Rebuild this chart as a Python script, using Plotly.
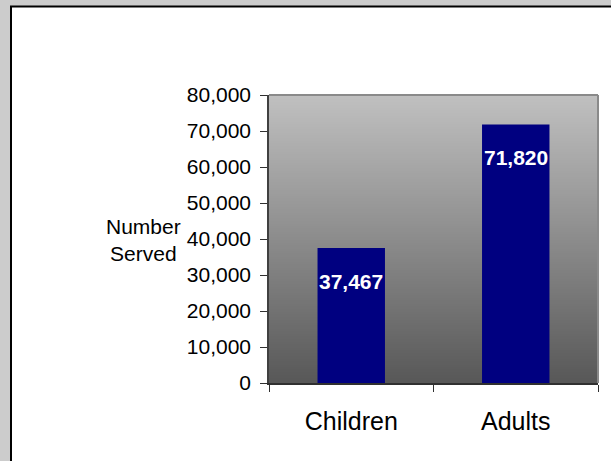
import base64
import struct
import zlib

import plotly.graph_objects as go

# Program totals
categories = ["Children", "Adults"]
served = [37467, 71820]

y_tick_values = [0, 10000, 20000, 30000, 40000, 50000, 60000, 70000, 80000]
y_tick_labels = [f"{v:,}" for v in y_tick_values]

W, H = 611, 461
M_L, M_R, M_T, M_B = 269, 13, 95, 78
PW, PH = W - M_L - M_R, H - M_T - M_B

FONT = "Liberation Sans, Arial, sans-serif"


def px_x(px):
    """Pixel column -> paper x."""
    return (px - M_L) / PW


def px_y(py):
    """Pixel row -> paper y."""
    return (H - M_B - py) / PH


def gradient_png(top, bottom, n=256):
    """1-pixel-wide vertical grey ramp as a base64 PNG data URI."""
    raw = b""
    for i in range(n):
        v = round(top + (bottom - top) * i / (n - 1))
        raw += b"\x00" + bytes([v, v, v])

    def chunk(tag, data):
        c = struct.pack(">I", len(data)) + tag + data
        return c + struct.pack(">I", zlib.crc32(tag + data) & 0xFFFFFFFF)

    png = b"\x89PNG\r\n\x1a\n"
    png += chunk(b"IHDR", struct.pack(">IIBBBBB", 1, n, 8, 2, 0, 0, 0))
    png += chunk(b"IDAT", zlib.compress(raw, 9))
    png += chunk(b"IEND", b"")
    return "data:image/png;base64," + base64.b64encode(png).decode()


fig = go.Figure(
    go.Bar(
        x=categories,
        y=served,
        marker=dict(color="#000080", line=dict(color="#000080", width=0)),
        hoverinfo="skip",
    )
)

# Value labels inside the top of each bar
for cat, val in zip(categories, served):
    fig.add_annotation(
        x=cat, y=val, xref="x", yref="y",
        text=f"<b>{val:,}</b>", showarrow=False, yshift=-33,
        font=dict(family=FONT, size=21, color="white"),
    )

# Axis caption to the left of the value axis
fig.add_annotation(
    x=px_x(143), y=px_y(239.5), xref="paper", yref="paper",
    xanchor="center", yanchor="middle",
    text="Number<br>Served", showarrow=False, align="center",
    font=dict(family=FONT, size=21, color="black"),
)

shapes = [
    # grey surround on the left and top
    dict(type="rect", xref="paper", yref="paper",
         x0=px_x(-5), x1=px_x(10), y0=px_y(470), y1=px_y(-5),
         fillcolor="#cccccc", line=dict(width=0), layer="below"),
    dict(type="rect", xref="paper", yref="paper",
         x0=px_x(-5), x1=px_x(620), y0=px_y(6), y1=px_y(-5),
         fillcolor="#cccccc", line=dict(width=0), layer="below"),
    # black frame edges
    dict(type="line", xref="paper", yref="paper",
         x0=px_x(11), x1=px_x(11), y0=px_y(470), y1=px_y(6),
         line=dict(color="black", width=2), layer="below"),
    dict(type="line", xref="paper", yref="paper",
         x0=px_x(10), x1=px_x(620), y0=px_y(6.5), y1=px_y(6.5),
         line=dict(color="black", width=2), layer="below"),
    # plot-area border on top and right
    dict(type="line", xref="paper", yref="paper",
         x0=0, x1=1, y0=1, y1=1,
         line=dict(color="#8a8a8a", width=2), layer="above"),
    dict(type="line", xref="paper", yref="paper",
         x0=1, x1=1, y0=0, y1=1,
         line=dict(color="#8a8a8a", width=2), layer="above"),
]

fig.update_layout(
    width=W, height=H,
    margin=dict(l=M_L, r=M_R, t=M_T, b=M_B, pad=0),
    paper_bgcolor="white",
    plot_bgcolor="rgba(0,0,0,0)",
    showlegend=False,
    bargap=0.59,
    shapes=shapes,
    images=[dict(
        source=gradient_png(192, 88),
        xref="paper", yref="paper", x=0, y=1, sizex=1, sizey=1,
        xanchor="left", yanchor="top", sizing="stretch", layer="below",
    )],
    xaxis=dict(
        type="category",
        showgrid=False, zeroline=False,
        showline=True, linecolor="#303030", linewidth=1.5,
        ticks="outside", tickson="boundaries", ticklen=7, tickcolor="#303030",
        tickfont=dict(family=FONT, size=25, color="black"),
        ticklabelstandoff=15,
    ),
    yaxis=dict(
        range=[0, 80000],
        tickvals=y_tick_values, ticktext=y_tick_labels,
        showgrid=False, zeroline=False,
        showline=True, linecolor="#404040", linewidth=1.5,
        ticks="outside", ticklen=7, tickcolor="#303030",
        tickfont=dict(family=FONT, size=21, color="black"),
        ticklabelstandoff=5,
    ),
)

fig.write_html("out.html")
